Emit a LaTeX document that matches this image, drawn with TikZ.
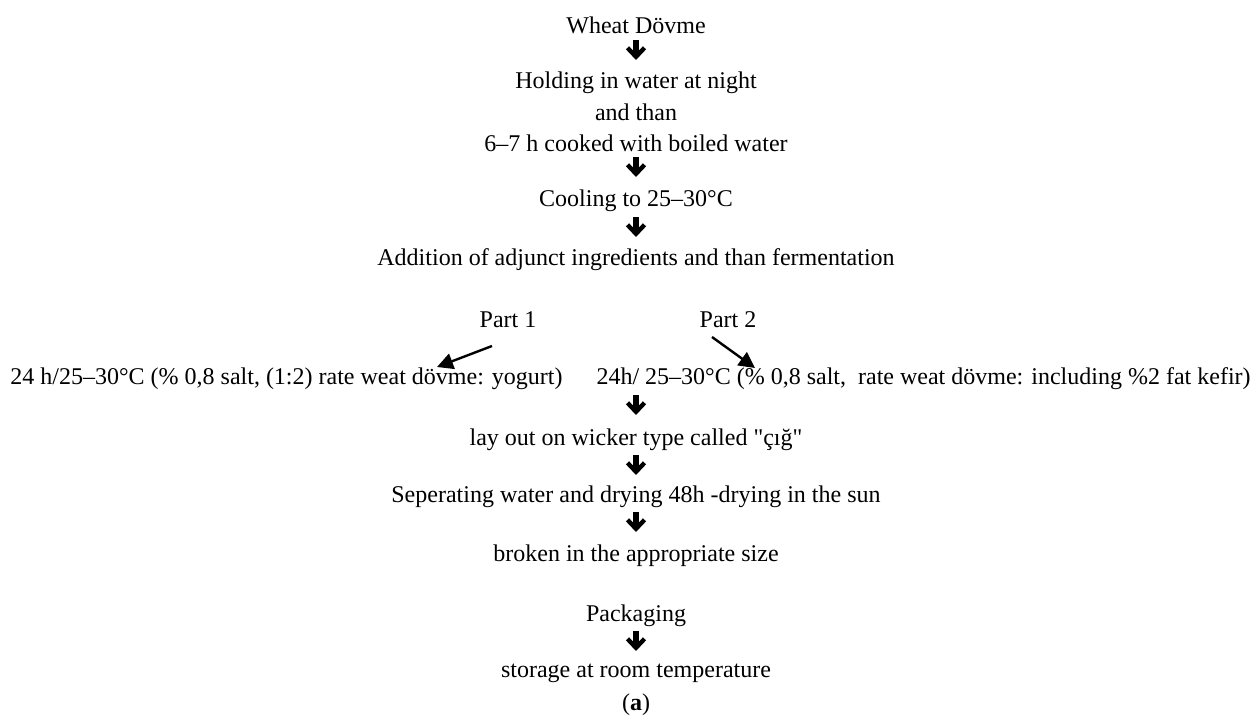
\documentclass[tikz,border=0pt]{standalone}
\usepackage{fontspec}
\setmainfont{Liberation Serif}[Ligatures=TeXOff]
\usetikzlibrary{arrows.meta}
\begin{document}
\begin{tikzpicture}[x=0.5pt,y=-0.5pt,
  txt/.style={inner sep=0pt, anchor=center, font=\fontsize{12}{14}\selectfont},
  bigarr/.style={line width=3pt, -{Straight Barb[length=4.5pt,width=8.5pt,line width=2.2pt]}},
  partarr/.style={line width=1.2pt, -{Triangle[length=8pt,width=8pt]}}]
\useasboundingbox (0,0) rectangle (1253,717);
\node[txt] (wheat) at (636,25) {Wheat Dövme};
\node[txt] (hold1) at (636,83) {Holding in water at night};
\node[txt] (hold2) at (636,112) {and than};
\node[txt] (hold3) at (636,143) {6–7 h cooked with boiled water};
\node[txt] (cool) at (636,201) {Cooling to 25–30°C};
\node[txt] (add) at (636,260) {Addition of adjunct ingredients and than fermentation};
\node[txt] (p1) at (508,320) {Part 1};
\node[txt] (p2) at (728,320) {Part 2};
\node[txt, anchor=west] (l1) at (10,379) {24 h/25–30°C (\% 0,8 salt, (1:2) rate weat dövme: yogurt)};
\node[txt, anchor=east] (l2) at (1251,379) {24h/ 25–30°C (\% 0,8 salt,\ \ rate weat dövme: including \%2 fat kefir)};
\node[txt] (lay) at (636,440) {lay out on wicker type called "çığ"};
\node[txt] (sep) at (636,497) {Seperating water and drying 48h -drying in the sun};
\node[txt] (brk) at (636,556) {broken in the appropriate size};
\node[txt] (pack) at (636,616) {Packaging};
\node[txt] (store) at (636,673) {storage at room temperature};
\node[txt] (lab) at (636,705) {(\textbf{a})};
% big arrows
\foreach \n/\y in {a/50,b/167,c/227,d/405,e/465,f/522,g/641}{
  \coordinate (\n t) at (636,\y-10);
  \coordinate (\n b) at (636,\y+10);
  \draw[bigarr] (\n t) -- (\n b);
}
% part arrows
\coordinate (p1s) at (492,346);
\coordinate (p1e) at (437,367);
\coordinate (p2s) at (712,337);
\coordinate (p2e) at (755,368);
\draw[partarr] (p1s) -- (p1e);
\draw[partarr] (p2s) -- (p2e);
\end{tikzpicture}
\end{document}
